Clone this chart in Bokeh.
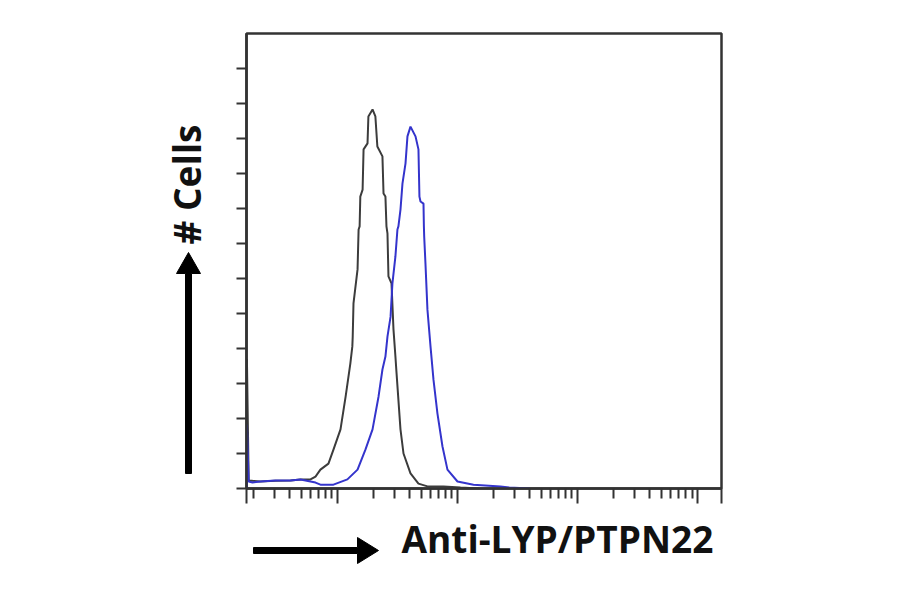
import math
from bokeh.plotting import figure
from bokeh.layouts import row, column
from bokeh.models import FixedTicker, Range1d
from bokeh.core.properties import value
from bokeh.embed import file_html
from bokeh.resources import INLINE

# ---- data ----
# intensity (log scale) and cell counts for the isotype control (black)
control_x = [1.76, 1.76, 1.82, 1.96, 2.28, 3.04, 4.06, 4.92, 5.96, 6.56, 7.21, 8.41, 9.26,
             10.6, 11.7, 12.8, 13.3, 13.4, 13.6, 14.7, 15.0, 15.3, 15.5, 16.2, 16.5, 17.8,
             18.1, 19.6, 20.7, 21.5, 23.7, 24.2, 25.1, 25.6, 26.1, 26.6, 28.2, 29.3, 30.4,
             31.0, 33.5, 35.5, 40.6, 47.3, 56.2, 76.4, 106, 150]
control_y = [0, 37, 2.3, 2.2, 2.0, 2.2, 2.3, 2.6, 2.6, 3.4, 5.4, 7.1, 11.1,
             16.9, 26.3, 35.7, 40.6, 43.4, 52.9, 62.6, 74.0, 74.9, 83.4, 85.4, 96.9, 98.6,
             106.3, 108.3, 106.3, 97.7, 94.9, 84.3, 83.4, 74.9, 72.9, 60.6, 58.6, 45.4, 37.7,
             33.4, 16.9, 10.0, 4.3, 1.4, 0.6, 0.6, 0.3, 0]

# anti-LYP/PTPN22 stained sample (blue)
sample_x = [1.76, 1.76, 1.82, 1.96, 2.28, 3.04, 4.06, 4.92, 5.96, 6.56, 7.21, 9.26, 12.1,
            14.7, 17.1, 19.6, 22.0, 23.7, 25.1, 26.1, 27.7, 28.7, 30.4, 31.6, 32.2, 33.5,
            34.8, 36.9, 38.3, 40.6, 44.7, 47.3, 48.2, 49.2, 52.1, 52.5, 52.8, 54.1, 56.2,
            59.6, 63.1, 68.1, 75.0, 82.5, 100, 136, 228, 270, 400]
sample_y = [0, 18.3, 2.0, 1.7, 2.0, 2.3, 2.3, 2.6, 2.0, 1.7, 1.1, 1.1, 2.6,
            5.4, 11.1, 16.9, 26.3, 34.0, 37.7, 43.4, 49.1, 58.6, 66.3, 74.0, 74.9, 79.7,
            87.1, 92.9, 100.6, 103.4, 100.6, 96.9, 83.4, 82.0, 81.4, 74.9, 72.0, 64.3, 51.1,
            40.6, 31.1, 21.4, 12.0, 5.4, 2.0, 1.1, 0.6, 0.3, 0]

x_major_ticks = [10, 100, 1000, 10000]
y_ticks = [0, 10, 20, 30, 40, 50, 60, 70, 80, 90, 100, 110, 120]
x_label = "Anti-LYP/PTPN22"
y_label = "# Cells"

x_start, x_end = 10 ** 0.242, 10 ** 4.2
y_start, y_end = 0, 130

TOTAL_W, TOTAL_H = 892, 586
LEFT_W = 220          # width of the left label strip
MAIN_H = 508          # height of the main plot (bottom strip below it)
B_LEFT, B_RIGHT = 246 - LEFT_W, 171
FONT = value("Open Sans")

# ---- main histogram ----
p = figure(width=TOTAL_W - LEFT_W, height=MAIN_H, x_axis_type="log",
           x_range=Range1d(x_start, x_end), y_range=Range1d(y_start, y_end),
           output_backend="svg", toolbar_location=None,
           min_border_left=B_LEFT, min_border_right=B_RIGHT,
           min_border_top=33, min_border_bottom=MAIN_H - 33 - 455)
p.background_fill_color = "white"
p.border_fill_color = "white"
p.grid.visible = False
p.outline_line_color = "#333333"
p.outline_line_width = 2.5

minor = [m * d for d in [1, 10, 100, 1000] for m in range(2, 10)]
minor = [v for v in minor if x_start <= v <= x_end]
p.xaxis.ticker = FixedTicker(ticks=[x_start] + x_major_ticks + [x_end], minor_ticks=minor)
p.yaxis.ticker = FixedTicker(ticks=y_ticks, minor_ticks=[])

for ax in (p.xaxis, p.yaxis):
    ax.axis_line_color = "#333333"
    ax.axis_line_width = 2.5
    ax.major_tick_line_color = "#333333"
    ax.major_tick_line_width = 2
    ax.minor_tick_line_color = "#333333"
    ax.minor_tick_line_width = 2
    ax.major_tick_in = 0
    ax.minor_tick_in = 0
    ax.major_label_text_font_size = "0px"
    ax.major_label_text_alpha = 0
    ax.major_label_standoff = 0

p.xaxis.major_tick_out = 15
p.xaxis.minor_tick_out = 10
p.yaxis.major_tick_out = 10
p.yaxis.minor_tick_out = 0

p.line(control_x, control_y, line_color="#3c3c3c", line_width=2)
p.line(sample_x, sample_y, line_color="#3434cc", line_width=2)


# ---- label strips (page-pixel coordinate frames) ----
def strip(w, h, xr, bl=0, br=0):
    f = figure(width=w, height=h, x_range=Range1d(*xr), y_range=Range1d(0, h),
               output_backend="svg", toolbar_location=None,
               x_axis_location=None, y_axis_location=None,
               min_border_left=bl, min_border_right=br, min_border_top=0, min_border_bottom=0)
    f.grid.visible = False
    f.outline_line_color = None
    f.background_fill_color = "white"
    f.border_fill_color = "white"
    return f


# left strip: page x 0..LEFT_W ; data y = TOTAL_H - page y
left = strip(LEFT_W, TOTAL_H, (0, LEFT_W))
v_px = [185, 191, 191, 200, 188, 176, 185]
v_py = [473, 473, 273, 273, 252, 273, 273]
left.patch(v_px, [TOTAL_H - y for y in v_py], fill_color="black",
           line_color="black", line_width=1)
left.text(x=[186], y=[TOTAL_H - 244], text=[y_label], angle=math.pi / 2,
          text_font=FONT, text_font_style="bold", text_font_size="37px",
          text_color="#111111", text_align="left", text_baseline="alphabetic")

# bottom strip: frame aligned with the main frame (page x 246..721), page y MAIN_H..TOTAL_H
BOT_H = TOTAL_H - MAIN_H
bottom = strip(TOTAL_W - LEFT_W, BOT_H, (246, 721), B_LEFT, B_RIGHT)
h_px = [253, 357, 357, 378, 357, 357, 253]
h_py = [547, 547, 537, 550, 563, 553, 553]
bottom.patch(h_px, [TOTAL_H - y for y in h_py], fill_color="black",
             line_color="black", line_width=1)
bottom.text(x=[401], y=[TOTAL_H - 538], text=[x_label],
            text_font=FONT, text_font_style="bold", text_font_size="37px",
            text_color="#111111", text_align="left", text_baseline="alphabetic")

layout = row(left, column(p, bottom, spacing=0), spacing=0)

open("out.html", "w").write(file_html(layout, INLINE))
